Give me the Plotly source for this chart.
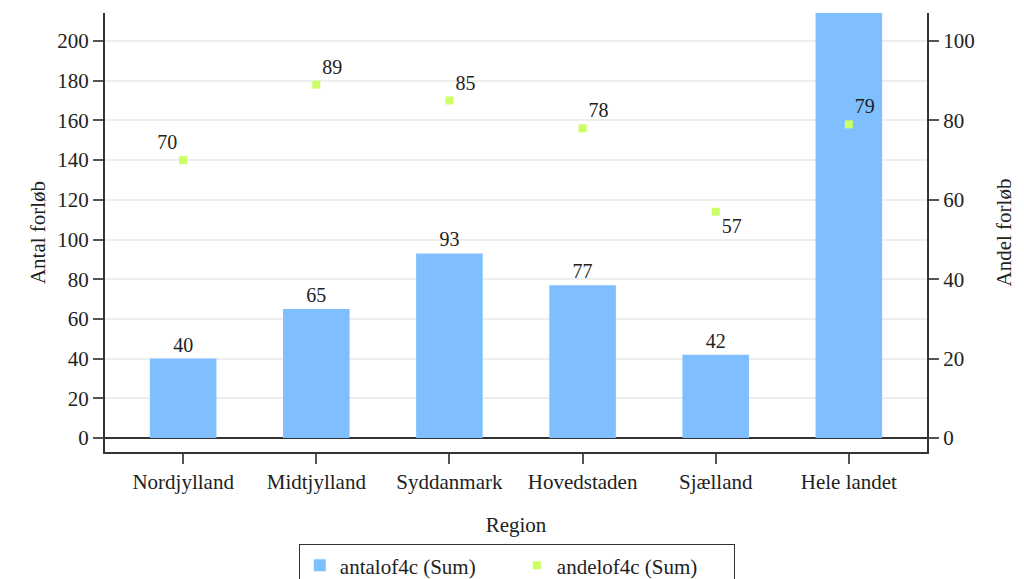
import plotly.graph_objects as go

# Data
regions = ["Nordjylland", "Midtjylland", "Syddanmark", "Hovedstaden", "Sjælland", "Hele landet"]
antal = [40, 65, 93, 77, 42, 317]      # Antal forløb (left axis), last bar runs off the top
andel = [70, 89, 85, 78, 57, 79]       # Andel forløb (right axis)
andel_pos = ["top left", "top right", "top right", "top right", "bottom right", "top right"]

y_max = 214.1
y_min = -7.05

font_fam = "Liberation Serif, Times New Roman, serif"
ink = "#222222"
fs = 21

# only label the bars that end inside the plot
bar_text = [str(v) if v <= y_max else "" for v in antal]

fig = go.Figure()

fig.add_trace(go.Bar(
    x=regions,
    y=antal,
    name="antalof4c (Sum)",
    width=0.5,
    marker=dict(color="#80bfff", line=dict(color="#80bfff", width=0)),
    text=bar_text,
    textposition="outside",
    textfont=dict(family=font_fam, size=20, color=ink),
    cliponaxis=True,
    yaxis="y",
))

fig.add_trace(go.Scatter(
    x=regions,
    y=andel,
    name="andelof4c (Sum)",
    mode="markers+text",
    marker=dict(symbol="square", size=8, color="#ccff66"),
    text=[str(v) for v in andel],
    textposition=andel_pos,
    textfont=dict(family=font_fam, size=20, color=ink),
    yaxis="y2",
))

axis_common = dict(
    showline=True,
    linecolor="#333333",
    linewidth=2,
    ticks="outside",
    ticklen=10,
    tickwidth=2,
    tickcolor="#555555",
    tickfont=dict(size=fs),
)

# the page body adds an 8px offset, so margins are set 8px smaller here
fig.update_layout(
    width=1024,
    height=600,
    plot_bgcolor="white",
    paper_bgcolor="white",
    font=dict(family=font_fam, size=fs, color=ink),
    margin=dict(l=97, r=105, t=5, b=156),
    xaxis=dict(
        title=dict(text="Region", font=dict(size=fs), standoff=24),
        range=[-0.587, 5.587],
        showgrid=False,
        **axis_common,
    ),
    yaxis=dict(
        title=dict(text="Antal forløb", font=dict(size=fs), standoff=6),
        range=[y_min, y_max],
        dtick=20,
        showgrid=True,
        gridcolor="#eeeeee",
        gridwidth=2,
        zeroline=True,
        zerolinecolor="#333333",
        zerolinewidth=2,
        **axis_common,
    ),
    yaxis2=dict(
        title=dict(text="Andel forløb", font=dict(size=fs), standoff=23),
        overlaying="y",
        side="right",
        range=[y_min / 2, y_max / 2],
        dtick=20,
        showgrid=False,
        zeroline=False,
        **axis_common,
    ),
    legend=dict(
        orientation="h",
        x=0.501,
        xanchor="center",
        y=-0.21,
        yanchor="top",
        bordercolor="#333333",
        borderwidth=1,
        entrywidth=172,
        font=dict(size=fs),
    ),
    showlegend=True,
)

fig.write_html("out.html")
